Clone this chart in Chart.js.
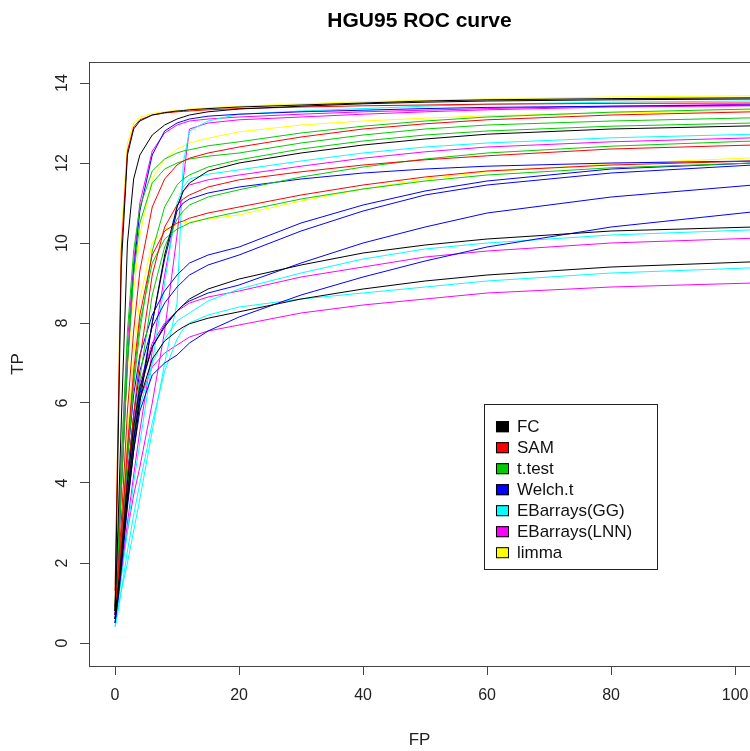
<!DOCTYPE html>
<html>
<head>
<meta charset="utf-8">
<script src="https://cdn.jsdelivr.net/npm/chart.js@4.4.0/dist/chart.umd.min.js"></script>
<style>
html, body { margin: 0; padding: 0; background: #fff; overflow: hidden; }
#wrap { width: 750px; height: 751px; }
</style>
</head>
<body>
<div id="wrap"><canvas id="roc" width="750" height="751"></canvas></div>
<script>
// FP values where every curve is sampled
const fp = [0, 0.5, 1, 2, 3, 4, 6, 8, 10, 11, 12, 15, 20, 30, 40, 50, 60, 80, 103];

const methods = ['FC', 'SAM', 't.test', 'Welch.t', 'EBarrays(GG)', 'EBarrays(LNN)', 'limma'];
const methodColors = ['#000000', '#ff0000', '#00cd00', '#0000ff', '#00ffff', '#ff00ff', '#ffff00'];

const xTicks = [0, 20, 40, 60, 80, 100];
const yTicks = [0, 2, 4, 6, 8, 10, 12, 14];

// TP for each curve, one row per data set
const fcTP = [
  [0.8, 5.0, 9.4, 12.2, 12.85, 13.05, 13.2, 13.26, 13.3, 13.31, 13.33, 13.36, 13.4, 13.45, 13.5, 13.55, 13.58, 13.61, 13.63],
  [0.8, 3.0, 5.5, 10.0, 11.6, 12.2, 12.7, 12.95, 13.1, 13.15, 13.2, 13.28, 13.35, 13.42, 13.48, 13.52, 13.55, 13.58, 13.6],
  [0.7, 1.3, 2.0, 3.5, 4.8, 6.0, 8.0, 9.7, 10.9, 11.3, 11.5, 11.8, 12.0, 12.25, 12.45, 12.6, 12.72, 12.85, 12.93],
  [0.6, 1.3, 2.2, 4.0, 5.4, 6.4, 7.4, 7.9, 8.3, 8.45, 8.6, 8.85, 9.1, 9.45, 9.75, 9.95, 10.1, 10.3, 10.4],
  [0.6, 1.2, 2.0, 3.7, 5.1, 6.1, 7.1, 7.55, 7.8, 7.9, 7.98, 8.12, 8.28, 8.6, 8.85, 9.05, 9.2, 9.4, 9.53]
];
const samTP = [
  [1.3, 5.6, 9.8, 12.3, 12.9, 13.08, 13.2, 13.25, 13.28, 13.29, 13.3, 13.33, 13.36, 13.4, 13.43, 13.45, 13.47, 13.49, 13.5],
  [0.9, 1.8, 3.0, 5.8, 7.8, 9.3, 10.9, 11.6, 11.95, 12.05, 12.12, 12.25, 12.4, 12.65, 12.85, 12.98, 13.08, 13.2, 13.28],
  [0.8, 1.5, 2.3, 4.1, 5.7, 7.1, 9.2, 10.4, 10.95, 11.1, 11.2, 11.4, 11.58, 11.78, 11.95, 12.08, 12.18, 12.35, 12.45],
  [0.7, 1.5, 2.6, 4.9, 6.8, 8.2, 9.7, 10.3, 10.5, 10.55, 10.62, 10.75, 10.9, 11.2, 11.45, 11.65, 11.8, 11.95, 12.05]
];
const ttestTP = [
  [1.0, 2.6, 4.5, 7.8, 9.8, 10.9, 11.8, 12.1, 12.25, 12.3, 12.33, 12.43, 12.53, 12.75, 12.92, 13.05, 13.15, 13.27, 13.35],
  [0.8, 2.2, 3.8, 7.0, 9.2, 10.5, 11.5, 11.85, 12.0, 12.05, 12.1, 12.17, 12.25, 12.5, 12.7, 12.85, 12.95, 13.05, 13.13],
  [0.9, 1.7, 2.6, 4.6, 6.4, 7.8, 9.8, 10.9, 11.45, 11.6, 11.7, 11.9, 12.08, 12.35, 12.55, 12.7, 12.8, 12.92, 13.0],
  [0.9, 1.6, 2.3, 3.9, 5.3, 6.6, 8.7, 9.9, 10.6, 10.8, 10.95, 11.15, 11.33, 11.65, 11.9, 12.1, 12.25, 12.42, 12.55],
  [0.8, 1.6, 2.6, 4.8, 6.6, 8.0, 9.5, 10.1, 10.35, 10.42, 10.5, 10.62, 10.78, 11.1, 11.35, 11.55, 11.7, 11.88, 12.0]
];
const welchTP = [
  [0.7, 2.0, 3.8, 7.0, 9.3, 10.8, 12.2, 12.8, 13.0, 13.05, 13.1, 13.17, 13.22, 13.28, 13.32, 13.36, 13.39, 13.42, 13.45],
  [0.5, 1.2, 2.0, 3.6, 5.0, 6.2, 8.0, 9.6, 10.8, 11.0, 11.1, 11.25, 11.4, 11.6, 11.75, 11.85, 11.92, 12.0, 12.05],
  [0.7, 1.6, 2.6, 4.6, 6.2, 7.2, 8.2, 8.8, 9.2, 9.35, 9.5, 9.7, 9.9, 10.5, 10.95, 11.3, 11.55, 11.85, 12.0],
  [0.6, 1.4, 2.3, 4.2, 5.7, 6.8, 7.9, 8.5, 8.9, 9.05, 9.2, 9.45, 9.7, 10.3, 10.8, 11.2, 11.45, 11.75, 11.95],
  [0.6, 1.3, 2.1, 3.8, 5.3, 6.3, 7.4, 7.95, 8.3, 8.45, 8.55, 8.75, 8.95, 9.5, 10.0, 10.4, 10.75, 11.15, 11.45],
  [0.5, 1.1, 1.8, 3.4, 4.8, 5.8, 6.7, 7.0, 7.2, 7.35, 7.5, 7.8, 8.15, 8.7, 9.15, 9.55, 9.9, 10.4, 10.78]
];
const ebggTP = [
  [0.4, 0.9, 1.3, 2.0, 2.8, 3.6, 5.3, 7.0, 8.5, 12.0, 12.8, 13.05, 13.22, 13.3, 13.36, 13.42, 13.47, 13.52, 13.55],
  [0.5, 1.0, 1.6, 2.8, 4.0, 5.0, 7.0, 9.0, 11.0, 11.4, 11.6, 11.72, 11.83, 12.05, 12.25, 12.4, 12.5, 12.63, 12.72],
  [0.5, 1.1, 1.9, 3.5, 4.8, 5.9, 7.0, 7.6, 8.05, 8.15, 8.25, 8.55, 8.85, 9.25, 9.6, 9.85, 10.0, 10.2, 10.33],
  [0.4, 0.8, 1.3, 2.3, 3.2, 4.0, 5.5, 6.8, 7.6, 7.85, 8.0, 8.2, 8.4, 8.6, 8.75, 8.9, 9.05, 9.25, 9.38]
];
const eblnnTP = [
  [0.6, 1.2, 1.8, 2.8, 3.7, 4.4, 6.0, 7.8, 10.2, 11.6, 12.85, 13.0, 13.08, 13.15, 13.22, 13.28, 13.33, 13.4, 13.43],
  [0.9, 2.5, 4.5, 7.5, 9.5, 11.0, 12.3, 12.75, 12.95, 13.0, 13.05, 13.1, 13.15, 13.22, 13.28, 13.32, 13.36, 13.42, 13.47],
  [0.6, 1.1, 1.7, 3.0, 4.2, 5.3, 7.3, 9.2, 10.9, 11.3, 11.45, 11.58, 11.7, 11.92, 12.12, 12.28, 12.4, 12.53, 12.63],
  [0.7, 1.4, 2.3, 4.1, 5.5, 6.5, 7.5, 8.0, 8.3, 8.4, 8.5, 8.65, 8.8, 9.15, 9.4, 9.65, 9.8, 10.0, 10.12],
  [0.8, 1.4, 2.2, 3.9, 5.2, 6.1, 6.9, 7.25, 7.45, 7.55, 7.65, 7.8, 7.95, 8.25, 8.45, 8.6, 8.75, 8.9, 9.0]
];
const limmaTP = [
  [1.0, 6.0, 10.2, 12.5, 13.0, 13.15, 13.24, 13.28, 13.32, 13.33, 13.35, 13.38, 13.42, 13.48, 13.53, 13.57, 13.6, 13.65, 13.68],
  [0.9, 2.2, 3.8, 6.8, 8.8, 10.2, 11.6, 12.1, 12.35, 12.42, 12.5, 12.62, 12.78, 12.95, 13.05, 13.12, 13.18, 13.25, 13.3],
  [0.8, 1.7, 2.8, 5.2, 7.2, 8.6, 10.0, 10.35, 10.45, 10.5, 10.53, 10.6, 10.7, 11.05, 11.35, 11.6, 11.78, 11.98, 12.13]
];

const allTP = [fcTP, samTP, ttestTP, welchTP, ebggTP, eblnnTP, limmaTP];

const FONT = '"Liberation Sans", Arial, sans-serif';

const datasets = [];
allTP.forEach((curves, m) => {
  curves.forEach(tp => {
    datasets.push({
      label: methods[m],
      data: fp.map((x, i) => ({ x: x, y: tp[i] })),
      borderColor: methodColors[m],
      borderWidth: 1,
      pointRadius: 0,
      fill: false,
      tension: 0
    });
  });
});

// title, axis labels, rotated y tick labels, frame and legend box
const decorations = {
  id: 'decorations',
  afterDraw(chart) {
    const ctx = chart.ctx;
    const a = chart.chartArea;
    const xs = chart.scales.x, ys = chart.scales.y;
    ctx.save();

    ctx.strokeStyle = '#444';
    ctx.lineWidth = 1;
    ctx.strokeRect(a.left + 0.5, a.top + 0.5, a.right - a.left, a.bottom - a.top);

    ctx.fillStyle = '#000';
    ctx.textAlign = 'center';
    ctx.textBaseline = 'middle';
    ctx.font = 'bold 21px ' + FONT;
    ctx.fillText('HGU95 ROC curve', (a.left + a.right) / 2, 21);

    ctx.font = '17px ' + FONT;
    ctx.fillStyle = '#222';
    ctx.fillText('FP', (a.left + a.right) / 2, 740);

    ctx.save();
    ctx.translate(18, (a.top + a.bottom) / 2);
    ctx.rotate(-Math.PI / 2);
    ctx.fillText('TP', 0, 0);
    ctx.restore();

    ctx.font = '16px ' + FONT;
    yTicks.forEach(v => {
      ctx.save();
      ctx.translate(63, ys.getPixelForValue(v));
      ctx.rotate(-Math.PI / 2);
      ctx.fillText(String(v), 0, 0);
      ctx.restore();
    });

    // legend
    const bl = xs.getPixelForValue(59.5), br = xs.getPixelForValue(87.4);
    const bt = ys.getPixelForValue(5.97), bb = ys.getPixelForValue(1.85);
    ctx.fillStyle = '#fff';
    ctx.fillRect(bl, bt, br - bl, bb - bt);
    ctx.strokeStyle = '#222';
    ctx.strokeRect(Math.round(bl) + 0.5, Math.round(bt) + 0.5, Math.round(br - bl), Math.round(bb - bt));
    ctx.font = '17px ' + FONT;
    ctx.textAlign = 'left';
    methods.forEach((name, i) => {
      const cy = bt + 22 + i * 21;
      ctx.fillStyle = methodColors[i];
      ctx.fillRect(bl + 12, cy - 5, 13, 11);
      ctx.strokeStyle = '#000';
      ctx.strokeRect(bl + 12.5, cy - 4.5, 12, 10);
      ctx.fillStyle = '#111';
      ctx.fillText(name, bl + 33, cy + 1);
    });
    ctx.restore();
  }
};

new Chart(document.getElementById('roc').getContext('2d'), {
  type: 'line',
  data: { datasets: datasets },
  options: {
    responsive: false,
    animation: false,
    layout: { padding: { left: 0, right: 0, top: 62, bottom: 0 } },
    plugins: { legend: { display: false }, tooltip: { enabled: false }, title: { display: false } },
    scales: {
      x: {
        type: 'linear',
        min: -4.2,
        max: 102.4,
        afterBuildTicks: s => { s.ticks = xTicks.map(v => ({ value: v })); },
        afterFit: s => { s.height = 85; s.paddingLeft = 0; s.paddingRight = 0; },
        grid: { drawOnChartArea: false, drawTicks: true, tickLength: 9, color: '#444' },
        border: { display: true, color: '#444' },
        ticks: { color: '#222', font: { family: FONT, size: 16 }, padding: 11, maxRotation: 0, autoSkip: false }
      },
      y: {
        type: 'linear',
        min: -0.575,
        max: 14.525,
        afterBuildTicks: s => { s.ticks = yTicks.map(v => ({ value: v })); },
        afterFit: s => { s.width = 89; s.paddingTop = 0; s.paddingBottom = 0; },
        grid: { drawOnChartArea: false, drawTicks: true, tickLength: 9, color: '#444' },
        border: { display: true, color: '#444' },
        ticks: { display: false }
      }
    }
  },
  plugins: [decorations]
});
</script>
</body>
</html>
